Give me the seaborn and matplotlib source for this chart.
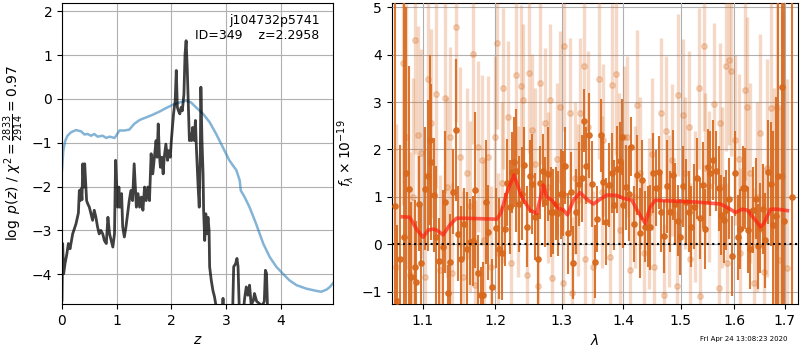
import matplotlib
matplotlib.use("Agg")
import matplotlib.pyplot as plt
import seaborn as sns
import numpy as np

# ---------------- left panel: p(z) and chi2 curve ----------------
pz_z = [0.0, 0.012, 0.03, 0.055, 0.09, 0.116, 0.147, 0.195, 0.256, 0.30, 0.317, 0.335, 0.35, 0.365,
        0.38, 0.40, 0.415, 0.43, 0.45, 0.47, 0.50, 0.53, 0.56, 0.59, 0.62, 0.65, 0.68, 0.71, 0.745,
        0.775, 0.81, 0.84, 0.87, 0.90, 0.93, 0.96, 0.98, 1.0, 1.02, 1.04, 1.06, 1.09, 1.11, 1.14,
        1.17, 1.20, 1.23, 1.26, 1.29, 1.32, 1.36, 1.39, 1.42, 1.45, 1.48, 1.51, 1.54, 1.57, 1.60,
        1.63, 1.66, 1.69, 1.72, 1.74, 1.76, 1.78, 1.80, 1.825, 1.85, 1.87, 1.90, 1.93, 1.95, 1.98,
        2.0, 2.01, 2.04, 2.07, 2.09, 2.11, 2.13, 2.155, 2.18, 2.20, 2.23, 2.25, 2.27, 2.29, 2.31,
        2.33, 2.34, 2.37, 2.39, 2.42, 2.44, 2.46, 2.49, 2.51, 2.53, 2.54, 2.56, 2.58, 2.59, 2.61,
        2.63, 2.65, 2.67, 2.69, 2.70, 2.73, 2.76, 2.79, 2.82, 2.87, 2.93, 2.945, 2.96, 3.05, 3.12,
        3.14, 3.175, 3.20, 3.22, 3.24, 3.30, 3.34, 3.37, 3.40, 3.43, 3.46, 3.50, 3.52, 3.56, 3.62,
        3.66, 3.70, 3.72, 3.74, 3.76, 3.85, 4.0]
pz_logp = [-4.59, -3.30, -3.99, -3.76, -3.53, -3.30, -3.42, -3.08, -2.85, -2.60, -2.09, -2.32, -2.05, -2.30,
           -1.48, -2.01, -1.48, -1.86, -2.32, -2.39, -2.47, -2.62, -2.77, -2.54, -2.70, -2.92, -3.08, -3.0, -3.08,
           -3.23, -3.30, -2.70, -3.08, -3.23, -3.38, -3.08, -1.40, -2.01, -2.47, -2.01, -2.47, -2.16, -2.92, -3.15,
           -2.92, -2.62, -2.32, -2.09, -2.32, -1.48, -2.47, -2.16, -2.47, -2.24, -2.54, -2.01, -2.32, -2.01, -2.32,
           -1.25, -1.71, -1.33, -0.95, -1.33, -0.57, -1.25, -1.56, -1.33, -1.71, -1.33, -1.03, -1.40, -1.18, -1.33,
           -0.95, -0.80, -0.34, -0.04, 0.65, -0.19, -0.27, -0.34, -0.19, -0.27, 0.11, 1.02, 1.33, 0.72, -0.11,
           -0.95, -0.80, -0.95, -0.65, -0.95, -0.49, -1.18, -2.01, -2.47, -1.18, 0.27, -0.95, -1.71, -2.54, -3.23,
           -2.62, -3.08, -2.70, -3.0, -3.83, -4.14, -4.37, -4.52, -4.75, -5.2, -4.9, -4.55, -5.0, -5.6, -4.9,
           -3.83, -3.76, -3.64, -3.83, -4.7, -5.1, -4.55, -4.29, -4.48, -4.25, -4.7, -4.6, -4.44, -4.62, -4.68,
           -4.72, -4.62, -3.91, -3.98, -4.8, -5.8, -6.5]

chi_z = [0.0, 0.024, 0.06, 0.10, 0.165, 0.256, 0.35, 0.41, 0.47, 0.53, 0.59, 0.65, 0.745, 0.81, 0.87,
         0.96, 0.99, 1.05, 1.14, 1.23, 1.32, 1.42, 1.54, 1.66, 1.78, 1.90, 2.03, 2.15, 2.27, 2.36,
         2.45, 2.58, 2.70, 2.82, 2.94, 3.06, 3.19, 3.25, 3.27, 3.34, 3.43, 3.55, 3.68, 3.80, 3.92,
         4.04, 4.16, 4.29, 4.47, 4.65, 4.74, 4.84, 4.90, 4.96]
chi_logp = [-1.63, -1.18, -0.95, -0.84, -0.76, -0.71, -0.74, -0.81, -0.80, -0.84, -0.80, -0.86, -0.84, -0.89, -0.86,
            -0.89, -0.84, -0.72, -0.72, -0.70, -0.57, -0.48, -0.42, -0.36, -0.29, -0.21, -0.13, -0.08, -0.04, -0.08,
            -0.19, -0.34, -0.53, -0.80, -1.10, -1.40, -1.63, -1.86, -2.09, -2.24, -2.47, -2.85, -3.30, -3.61, -3.83,
            -3.99, -4.14, -4.25, -4.33, -4.38, -4.40, -4.35, -4.29, -4.20]

# ---------------- right panel: spectrum ----------------
dark_wave = [1.0639, 1.0669, 1.0712, 1.0755, 1.0781, 1.0820, 1.0855, 1.0899, 1.0920, 1.0956,
             1.0986, 1.1031, 1.1075, 1.1097, 1.1119, 1.1155, 1.1186, 1.1222, 1.1268, 1.1300,
             1.1336, 1.1368, 1.1413, 1.1450, 1.1482, 1.1514, 1.1561, 1.1608, 1.1645, 1.1682,
             1.1720, 1.1762, 1.1795, 1.1833, 1.1871, 1.1904, 1.1952,
             1.2021, 1.2060, 1.2104, 1.2143, 1.2177, 1.2216, 1.2250, 1.2280, 1.2314, 1.2354,
             1.2393, 1.2428, 1.2473, 1.2513, 1.2548, 1.2589, 1.2639, 1.2674, 1.2715, 1.2751,
             1.2797, 1.2833, 1.2869, 1.2910, 1.2952, 1.2988, 1.3025, 1.3061, 1.3103, 1.3145,
             1.3182, 1.3224, 1.3272, 1.3315, 1.3357, 1.3395, 1.3433, 1.3476,
             1.3535, 1.3573, 1.3628, 1.3671, 1.3716, 1.3765, 1.3809, 1.3848, 1.3892, 1.3937,
             1.3982, 1.4004, 1.4049, 1.4089, 1.4134, 1.4185, 1.4231, 1.4277, 1.4317, 1.4363,
             1.4415, 1.4461, 1.4508, 1.4560, 1.4607, 1.4654, 1.4707, 1.4754, 1.4801, 1.4855,
             1.4903, 1.4945, 1.4993, 1.5041, 1.5090, 1.5145, 1.5193,
             1.5248, 1.5297, 1.5346, 1.5402, 1.5451, 1.5495, 1.5545, 1.5595, 1.5645, 1.5701,
             1.5752, 1.5796, 1.5847, 1.5904, 1.5955, 1.6007, 1.6065, 1.6116, 1.6168, 1.6214,
             1.6259, 1.6311, 1.6364, 1.6416, 1.6462, 1.6509, 1.6555, 1.6608, 1.6662, 1.6709,
             1.6763, 1.6810, 1.6858, 1.6932, 1.6986, 1.7151]
dark_flux = [0.8, -1.2, -0.3, 0.15, 1.5, 1.17, -0.7, -0.47, -0.8, 0.86,
             -0.4, 1.17, 1.45, 2.2, 1.73, 1.04, 0.15, -0.35, -0.06, 0.89,
             -1.03, -0.37, 1.11, 2.41, 0.22, -0.3, 0.43, -0.1, 0.05, 0.06,
             1.14, -0.6, -1.07, -1.07, 0.89, 0.25, -0.9,
             0.34, -0.09, -0.19, 0.32, 1.3, 0.79, 1.52, 1.74, 1.55, 0.85,
             1.07, 1.67, 0.37, 1.43, 1.27, 0.58, -0.3, 1.3, 1.55, 0.89,
             1.48, 0.69, 0.69, 0.86, 0.65, 1.07, 1.07, 1.66, 0.23, 1.1,
             -0.39, 0.69, 1.27, 1.39, 2.61, 1.66, 2.3, 1.27,
             -0.37, 0.53, 2.3, 1.32, 0.48, 1.25, 1.5, 0.83, 1.58, 1.76,
             2.26, 0.83, 1.2, 1.07, 2.06, 0.43, 1.46, 0.23, 1.36, 0.37,
             0.37, 0.36, 1.5, 1.18, 1.52, 0.69, 0.17, 1.22, 0.69, 1.46,
             0.86, 0.5, 0.15, 1.22, 0.89, 0.69, 0.37,
             0.79, 1.39, 0.55, 1.25, 0.32, 1.64, 1.5, 1.78, 1.55, 1.18,
             0.62, 0.51, 0.72, 0.96, -0.25, 1.5, 0.15, 0.32, 1.18, 1.18,
             0.3, -0.1, 0.72, 0.96, -0.04, 0.35, 0.74, 0.08, 1.53, 1.27,
             0.4, 0.6, 1.45, 3.31, 0.5, 1.0]
dark_err = [8.0, 1.6, 2.4, 6.0, 3.5, 2.6, 1.6, 1.4, 1.3, 1.0,
            1.2, 1.3, 1.6, 1.8, 1.65, 1.2, 1.5, 0.9, 1.2, 1.5,
            0.6, 1.0, 0.9, 1.5, 1.0, 1.1, 0.75, 1.2, 0.9, 0.95,
            1.65, 0.8, 0.6, 0.7, 1.3, 1.0, 0.6,
            0.85, 1.06, 0.99, 0.77, 0.92, 0.99, 0.85, 0.95, 1.3, 1.02,
            0.99, 0.81, 0.85, 0.77, 1.06, 0.92, 0.95, 0.77, 0.77, 0.95,
            0.99, 0.95, 0.9, 0.77, 0.9, 0.95, 0.9, 0.81, 0.85, 0.85,
            0.77, 0.9, 0.88, 0.92, 0.67, 0.81, 0.9, 0.9,
            0.77, 0.7, 0.77, 0.92, 0.92, 0.88, 0.85, 0.95, 0.92, 0.81,
            0.8, 0.9, 0.9, 1.0, 0.63, 0.81, 0.85, 0.95, 0.85, 0.75,
            0.85, 0.9, 0.85, 0.8, 0.77, 0.85, 0.77, 0.99, 0.85, 0.95,
            0.85, 0.75, 0.8, 0.85, 0.9, 0.85, 0.85,
            0.9, 0.85, 0.85, 0.9, 0.85, 0.8, 0.9, 0.85, 0.85, 0.9,
            0.85, 0.9, 0.85, 0.85, 0.85, 0.9, 0.9, 0.85, 0.9, 0.85,
            0.9, 0.85, 0.9, 0.85, 0.9, 0.95, 0.95, 1.0, 1.1, 1.3,
            2.0, 2.5, 4.0, 6.0, 6.0, 6.0]

light_wave = [1.0661, 1.0747, 1.0790, 1.0833, 1.0876, 1.0898, 1.0942, 1.0986, 1.1030, 1.1075,
              1.1119, 1.1177, 1.1231, 1.1300, 1.1322, 1.1368, 1.1391, 1.1450, 1.1505, 1.1551,
              1.1598, 1.1645, 1.1692, 1.1715, 1.1762, 1.1810, 1.1843, 1.1904, 1.1938, 1.2001,
              1.2025, 1.2049, 1.2098, 1.2122, 1.2195, 1.2229, 1.2302, 1.2342, 1.2381, 1.2416,
              1.2466, 1.2507, 1.2542, 1.2593, 1.2643, 1.2669, 1.2745, 1.2796, 1.2821, 1.2847,
              1.2925, 1.2977, 1.3029, 1.3045, 1.3134, 1.3160, 1.3213, 1.3266, 1.3293, 1.3347,
              1.3374, 1.3427, 1.3508, 1.3590, 1.3644, 1.3671, 1.3782, 1.3810, 1.3876, 1.3921,
              1.3949, 1.4005, 1.4061, 1.4117, 1.4203, 1.4232, 1.4289, 1.4346, 1.4432, 1.4490,
              1.4519, 1.4648, 1.4696, 1.4737, 1.4785, 1.4844, 1.4933, 1.4945, 1.5035, 1.5083,
              1.5145, 1.5176, 1.5267, 1.5328, 1.5359, 1.5421, 1.5452, 1.5514, 1.5608, 1.5702,
              1.5721, 1.5765, 1.5841, 1.5860, 1.5905, 1.5943, 1.6020, 1.6085, 1.6117, 1.6201,
              1.6247, 1.6312, 1.6377, 1.6443, 1.6509, 1.6575, 1.6642, 1.6710, 1.6777, 1.6844,
              1.6878, 1.6946, 1.7048]
light_flux = [-0.47, 3.82, 2.27, -0.65, 1.0, 4.31, 2.3, 1.92, -0.68, 3.48,
              2.55, 3.18, -0.54, 3.08, 1.2, 2.27, -0.61, 4.59, 1.85, -0.68,
              1.5, 0.8, 4.02, -0.86, 2.06, 1.78, 0.09, 1.85, -0.47, 2.27,
              4.24, -0.19, 1.3, 3.29, 2.69, -0.4, 3.57, 0.9, 3.34, 3.04,
              -0.65, 3.62, 2.41, 1.7, -0.89, 3.4, 2.55, 1.2, 3.04, -0.72,
              1.8, 2.9, -0.82, 4.18, 2.76, -1.03, 1.4, 0.93, 2.76, 3.76,
              -0.3, 2.48, -0.47, 3.49, 1.1, 2.2, -0.26, 3.36, 3.59, 1.6,
              0.3, 2.27, 2.27, -0.54, 1.0, 2.93, 1.5, -0.19, 0.65, 1.9,
              -0.47, 2.76, -1.07, 2.38, 0.7, 1.78, -0.89, 3.15, 2.73, 1.5,
              2.48, -0.3, 0.8, 3.29, -1.1, 4.18, 1.6, 1.22, 2.97, -0.93,
              2.55, 1.2, 3.76, -0.4, 3.89, 3.66, 2.2, 1.8, -0.19, 3.26,
              2.9, 1.5, -0.82, 1.0, 2.34, -0.58, 1.6, 2.87, 0.6, 2.9,
              -0.33, 1.43, -0.51]
light_err = [3.0, 3.0, 2.8, 2.6, 2.5, 2.4, 2.3, 2.2, 2.2, 2.2,
             2.0, 2.0, 2.0, 2.0, 1.9, 1.9, 1.9, 2.0, 1.9, 1.8,
             1.8, 1.8, 1.9, 1.8, 1.8, 1.8, 1.7, 1.7, 1.7, 1.7,
             1.8, 1.7, 1.7, 1.7, 1.6, 1.6, 1.7, 1.6, 1.7, 1.6,
             1.6, 1.7, 1.6, 1.6, 1.6, 1.7, 1.6, 1.6, 1.6, 1.6,
             1.6, 1.6, 1.6, 1.8, 1.6, 1.6, 1.6, 1.6, 1.6, 1.7,
             1.6, 1.6, 1.6, 1.7, 1.6, 1.6, 1.6, 1.7, 1.7, 1.6,
             1.6, 1.5, 1.7, 1.6, 1.5, 1.6, 1.6, 1.5, 1.6, 1.6,
             1.6, 1.6, 1.5, 1.6, 1.6, 1.6, 1.6, 1.7, 1.6, 1.6,
             1.6, 1.6, 1.6, 1.7, 1.6, 1.8, 1.6, 1.6, 1.7, 1.7,
             1.7, 1.7, 1.8, 1.7, 1.8, 1.8, 1.8, 1.8, 1.8, 1.9,
             1.9, 1.9, 2.0, 2.0, 2.1, 2.2, 2.3, 2.5, 2.7, 3.0,
             3.2, 3.5, 4.0]

model_wave = [1.0738, 1.0833, 1.0929, 1.1008, 1.1075, 1.1141, 1.1187, 1.1276, 1.1368, 1.1460,
              1.1551, 1.2025, 1.2083, 1.2171, 1.2278, 1.2392, 1.2517, 1.2618, 1.2719, 1.2771,
              1.2848, 1.2951, 1.3029, 1.3092, 1.3187, 1.3293, 1.3401, 1.3508, 1.3617, 1.3728,
              1.3894, 1.4005, 1.4147, 1.4233, 1.4375, 1.4462, 1.4549, 1.4695, 1.5298, 1.5733,
              1.5891, 1.6020, 1.6150, 1.6248, 1.6377, 1.6510, 1.6576, 1.6710, 1.6845, 1.7050]
model_flux = [0.58, 0.57, 0.30, 0.15, 0.30, 0.32, 0.30, 0.20, 0.41, 0.55,
              0.55, 0.53, 0.65, 1.08, 1.46, 1.00, 0.72, 0.65, 1.25, 1.00,
              0.93, 0.76, 0.72, 0.62, 0.93, 1.09, 0.95, 0.85, 0.95, 1.04,
              1.03, 0.97, 0.93, 0.72, 0.44, 0.79, 0.93, 0.92, 0.89, 0.85,
              0.76, 0.67, 0.74, 0.72, 0.55, 0.37, 0.44, 0.74, 0.74, 0.71]

lam_ticks = [1.1, 1.2, 1.3, 1.4, 1.5, 1.6, 1.7]
lam_labels = ["1.1", "1.2", "1.3", "1.4", "1.5", "1.6", "1.7"]
title_text = "j104732p5741\nID=349    z=2.2958"
stamp_text = "Fri Apr 24 13:08:23 2020"


def trim(*arrs):
    n = min(len(a) for a in arrs)
    return [np.asarray(a[:n], dtype=float) for a in arrs]


plt.rcParams["font.family"] = ["DejaVu Sans"]
plt.rcParams["axes.grid"] = True
plt.rcParams["grid.color"] = "#b0b0b0"
plt.rcParams["grid.linewidth"] = 0.8

fig = plt.figure(figsize=(8, 3.5), dpi=100)
ax1 = fig.add_axes([0.0775, 0.1314, 0.339, 0.860])
ax2 = fig.add_axes([0.4896, 0.1314, 0.5085, 0.860])

# left panel
cz, cl = trim(chi_z, chi_logp)
sns.lineplot(x=cz, y=cl, ax=ax1, sort=False, estimator=None,
             color="tab:blue", alpha=0.55, lw=1.8)
pz, pl = trim(pz_z, pz_logp)
sns.lineplot(x=pz, y=pl, ax=ax1, sort=False, estimator=None,
             color="black", alpha=0.75, lw=2.0)
ax1.set_xlim(0, 4.96)
ax1.set_ylim(-4.68, 2.19)
ax1.set_xticks([0, 1, 2, 3, 4])
ax1.set_yticks([-4, -3, -2, -1, 0, 1, 2])
ax1.grid(True, color="#b0b0b0", lw=0.8)
ax1.set_xlabel(r"$z$", fontsize=10)
ax1.set_ylabel(r"$\log\ p(z)$ / $\chi^2=\frac{2833}{2914}=0.97$", fontsize=10)
ax1.text(0.95, 0.965, title_text, transform=ax1.transAxes, ha="right", va="top",
         multialignment="right", fontsize=9)

# right panel
orange = "#d8681c"
lw_, lf_, le_ = trim(light_wave, light_flux, light_err)
ax2.errorbar(lw_, lf_, yerr=le_, fmt="o", color=orange, alpha=0.25, ms=4,
             elinewidth=2.4, capsize=0, zorder=3)
dw_, df_, de_ = trim(dark_wave, dark_flux, dark_err)
ax2.errorbar(dw_, df_, yerr=de_, fmt="o", color=orange, alpha=0.9, ms=3.8,
             elinewidth=1.5, capsize=0, zorder=4)
mw, mf = trim(model_wave, model_flux)
sns.lineplot(x=mw, y=mf, ax=ax2, sort=False, estimator=None,
             color="#ff2010", alpha=0.7, lw=2.6, zorder=5)
ax2.axhline(0, color="black", ls=":", lw=1.5, zorder=6)
ax2.set_xscale("log")
ax2.set_xlim(1.06, 1.728)
ax2.set_ylim(-1.26, 5.09)
ax2.xaxis.set_minor_locator(matplotlib.ticker.NullLocator())
ax2.set_xticks(lam_ticks)
ax2.set_xticklabels(lam_labels)
ax2.set_yticks([-1, 0, 1, 2, 3, 4, 5])
ax2.grid(True, color="#b0b0b0", lw=0.8)
ax2.set_axisbelow(False)
ax2.set_xlabel(r"$\lambda$", fontsize=10)
ax2.set_ylabel(r"$f_\lambda\times10^{-19}$", fontsize=10)

fig.text(0.985, 0.031, stamp_text, ha="right", va="center", fontsize=5)

fig.savefig("out.png", dpi=100)
